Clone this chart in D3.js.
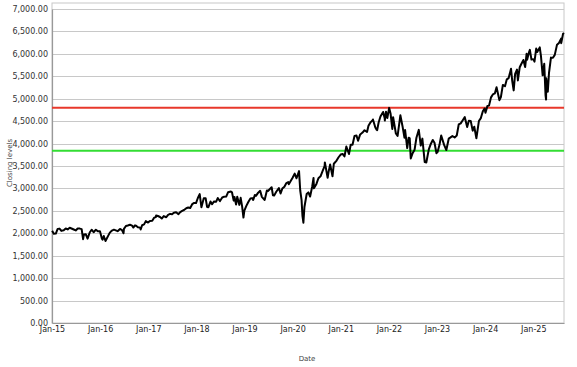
<!DOCTYPE html>
<html><head><meta charset="utf-8">
<script src="https://cdn.jsdelivr.net/npm/d3@7"></script>
<style>body{margin:0;background:#fff;} text{font-family:"DejaVu Sans",Verdana,sans-serif;}</style>
</head><body><svg id="c" width="577" height="367"></svg>
<script>
const dates = [
"2015-01-02","2015-01-15","2015-01-30","2015-02-13","2015-02-27","2015-03-13","2015-03-31","2015-04-15","2015-04-30","2015-05-15","2015-05-29","2015-06-15","2015-06-30","2015-07-15","2015-07-31","2015-08-14","2015-08-25","2015-08-31","2015-09-15","2015-09-28","2015-10-15","2015-10-30","2015-11-13","2015-11-30","2015-12-15","2015-12-31",
"2016-01-15","2016-01-20","2016-01-29","2016-02-11","2016-02-29","2016-03-15","2016-03-31","2016-04-15","2016-04-29","2016-05-13","2016-05-31","2016-06-15","2016-06-27","2016-06-30","2016-07-15","2016-07-29","2016-08-15","2016-08-31","2016-09-09","2016-09-22","2016-09-30","2016-10-14","2016-10-31","2016-11-04","2016-11-15","2016-11-30","2016-12-13","2016-12-30",
"2017-01-13","2017-01-31","2017-02-15","2017-02-28","2017-03-01","2017-03-15","2017-03-31","2017-04-13","2017-04-28","2017-05-17","2017-05-31","2017-06-15","2017-06-30","2017-07-14","2017-07-31","2017-08-18","2017-08-31","2017-09-15","2017-09-29","2017-10-16","2017-10-31","2017-11-15","2017-11-30","2017-12-15","2017-12-29",
"2018-01-12","2018-01-26","2018-02-08","2018-02-26","2018-03-12","2018-03-23","2018-04-02","2018-04-18","2018-04-30","2018-05-15","2018-05-31","2018-06-12","2018-06-29","2018-07-16","2018-07-31","2018-08-15","2018-08-29","2018-09-20","2018-09-28","2018-10-11","2018-10-17","2018-10-29","2018-11-07","2018-11-23","2018-12-03","2018-12-14","2018-12-24","2018-12-31",
"2019-01-15","2019-01-31","2019-02-15","2019-02-28","2019-03-08","2019-03-21","2019-03-29","2019-04-15","2019-04-30","2019-05-13","2019-05-31","2019-06-03","2019-06-20","2019-06-28","2019-07-26","2019-08-05","2019-08-14","2019-08-30","2019-09-19","2019-10-02","2019-10-15","2019-10-31","2019-11-15","2019-11-29","2019-12-03","2019-12-31",
"2020-01-17","2020-01-31","2020-02-19","2020-02-28","2020-03-09","2020-03-16","2020-03-23","2020-03-31","2020-04-17","2020-04-30","2020-05-13","2020-05-29","2020-06-08","2020-06-11","2020-06-30","2020-07-15","2020-07-31","2020-08-14","2020-08-31","2020-09-02","2020-09-23","2020-09-30","2020-10-12","2020-10-30","2020-11-09","2020-11-30","2020-12-15","2020-12-31",
"2021-01-15","2021-01-29","2021-02-12","2021-03-04","2021-03-17","2021-03-31","2021-04-15","2021-04-30","2021-05-12","2021-05-28","2021-06-15","2021-06-30","2021-07-19","2021-07-30","2021-08-16","2021-08-31","2021-09-02","2021-09-20","2021-09-30","2021-10-04","2021-10-15","2021-10-29","2021-11-18","2021-11-30","2021-12-01","2021-12-10","2021-12-20",
"2022-01-03","2022-01-14","2022-01-27","2022-02-02","2022-02-23","2022-03-08","2022-03-29","2022-04-14","2022-04-29","2022-05-04","2022-05-20","2022-05-31","2022-06-08","2022-06-16","2022-06-30","2022-07-15","2022-07-29","2022-08-16","2022-08-31","2022-09-12","2022-09-30","2022-10-12","2022-10-31","2022-11-15","2022-11-30","2022-12-13","2022-12-28","2022-12-30",
"2023-01-05","2023-01-20","2023-02-02","2023-02-24","2023-03-13","2023-03-31","2023-04-14","2023-04-28","2023-05-15","2023-05-31","2023-06-15","2023-06-30","2023-07-13","2023-07-31","2023-08-18","2023-08-31","2023-09-14","2023-09-29","2023-10-11","2023-10-27","2023-11-15","2023-11-30","2023-12-15","2023-12-28",
"2024-01-04","2024-01-19","2024-01-31","2024-02-15","2024-02-29","2024-03-15","2024-03-28","2024-04-19","2024-04-30","2024-05-15","2024-05-31","2024-06-14","2024-06-28","2024-07-16","2024-07-25","2024-08-05","2024-08-16","2024-08-30","2024-09-06","2024-09-20","2024-09-30","2024-10-18","2024-10-31","2024-11-11","2024-11-15","2024-11-29","2024-12-06","2024-12-18","2024-12-31",
"2025-01-10","2025-01-23","2025-01-31","2025-02-19","2025-02-28","2025-03-13","2025-03-25","2025-04-04","2025-04-08","2025-04-09","2025-04-21","2025-04-30","2025-05-15","2025-05-30","2025-06-13","2025-06-30","2025-07-15","2025-07-31","2025-08-01","2025-08-15","2025-08-22"
];
const closes = [
2058,1992,1995,2097,2104,2053,2068,2106,2086,2123,2107,2084,2063,2108,2104,2092,1868,1972,1978,1881,2023,2079,2023,2080,2043,2044,
1880,1859,1940,1829,1932,2015,2060,2081,2065,2047,2097,2072,2001,2099,2162,2174,2190,2171,2128,2177,2168,2133,2126,2085,2180,2199,2271,2239,
2275,2279,2350,2364,2396,2385,2363,2329,2384,2357,2412,2433,2423,2459,2470,2426,2472,2500,2519,2557,2575,2565,2648,2676,2674,
2786,2873,2581,2780,2783,2588,2582,2708,2648,2711,2705,2786,2718,2798,2816,2818,2914,2930,2914,2728,2809,2641,2814,2633,2790,2600,2351,2507,
2610,2704,2776,2784,2743,2855,2834,2906,2946,2812,2752,2744,2954,2942,3026,2845,2840,2926,3006,2888,2996,3038,3120,3141,3093,3231,
3330,3226,3386,2954,2747,2386,2237,2585,2875,2912,2820,3044,3232,3002,3100,3227,3271,3373,3500,3580,3237,3363,3535,3270,3550,3622,3695,3756,
3768,3714,3934,3768,3974,3973,4170,4181,4063,4204,4246,4298,4258,4395,4479,4523,4537,4358,4308,4300,4471,4605,4705,4567,4513,4712,4568,
4796,4663,4326,4589,4225,4170,4631,4393,4132,4300,3901,4132,4115,3667,3785,3863,4130,4305,3955,4110,3586,3577,3872,3992,4080,4019,3783,3840,
3808,3972,4179,3970,3855,4109,4138,4169,4136,4180,4426,4450,4510,4589,4370,4508,4505,4288,4376,4117,4502,4568,4719,4783,
4688,4840,4846,5030,5096,5117,5254,4967,5036,5308,5278,5432,5460,5667,5399,5186,5554,5648,5408,5703,5762,5864,5705,6001,5870,6032,6090,5872,5882,
5827,6119,6041,6144,5955,5522,5777,5074,4982,5457,5158,5569,5916,5912,5977,6205,6244,6339,6238,6450,6467
];
const yTicks = [0,500,1000,1500,2000,2500,3000,3500,4000,4500,5000,5500,6000,6500,7000];
const xTickLabels = ["Jan-15","Jan-16","Jan-17","Jan-18","Jan-19","Jan-20","Jan-21","Jan-22","Jan-23","Jan-24","Jan-25"];
const peakLevel = 4796.56;      // red line
const bearLevel = 3837.25;      // green line (20% below peak)

const parse = d3.timeParse("%Y-%m-%d");
const data = dates.map((d,i)=>({date:parse(d), v:closes[i]}));

const svg = d3.select("#c");
const L=52, R=564, T=9, B=323, frameTop=3;
const x = d3.scaleTime().domain([parse("2015-01-01"), d3.max(data,d=>d.date)]).range([L,R]);
const y = d3.scaleLinear().domain([0,7000]).range([B,T]);

// frame
svg.append("rect").attr("x",L).attr("y",frameTop).attr("width",R-L).attr("height",B-frameTop)
  .attr("fill","#fff").attr("stroke","#c8c8c8").attr("stroke-width",1);

// gridlines
svg.append("g").selectAll("line").data(yTicks.filter(t=>t>0)).join("line")
  .attr("x1",L).attr("x2",R).attr("y1",d=>Math.round(y(d))+0.5).attr("y2",d=>Math.round(y(d))+0.5)
  .attr("stroke","#c8c8c8").attr("stroke-width",1.2);

// y axis
const fmt = d3.format(",.2f");
const yAxis = svg.append("g").attr("transform",`translate(${L},0)`)
  .call(d3.axisLeft(y).tickValues(yTicks).tickFormat(fmt).tickSize(0).tickPadding(4));
yAxis.select(".domain").attr("stroke","#999").attr("stroke-width",1.2);
yAxis.selectAll("text").attr("font-size","8px").attr("fill","#333").attr("font-family","'DejaVu Sans',sans-serif");

// x axis
const xTicks = xTickLabels.map((_,i)=>new Date(2015+i,0,1));
const xAxis = svg.append("g").attr("transform",`translate(0,${B})`)
  .call(d3.axisBottom(x).tickValues(xTicks).tickFormat((d,i)=>xTickLabels[i]).tickSize(0).tickPadding(3));
xAxis.select(".domain").attr("stroke","#999").attr("stroke-width",1.2);
xAxis.selectAll("text").attr("font-size","8px").attr("fill","#222").attr("font-family","'DejaVu Sans',sans-serif");

// reference lines
svg.append("line").attr("x1",L).attr("x2",R).attr("y1",y(peakLevel)).attr("y2",y(peakLevel))
  .attr("stroke","#e8382b").attr("stroke-width",2);
svg.append("line").attr("x1",L).attr("x2",R).attr("y1",y(bearLevel)).attr("y2",y(bearLevel))
  .attr("stroke","#33dd33").attr("stroke-width",2);

// price line
svg.append("path").datum(data)
  .attr("d", d3.line().x(d=>x(d.date)).y(d=>y(d.v)))
  .attr("fill","none").attr("stroke","#000").attr("stroke-width",2).attr("stroke-linejoin","round");

// titles
svg.append("text").attr("x",307).attr("y",361).attr("text-anchor","middle")
  .attr("font-size","7px").attr("fill","#444").text("Date");
svg.append("text").attr("transform","translate(12,163) rotate(-90)").attr("text-anchor","middle")
  .attr("font-size","7px").attr("fill","#444").text("Closing levels");
</script></body></html>
